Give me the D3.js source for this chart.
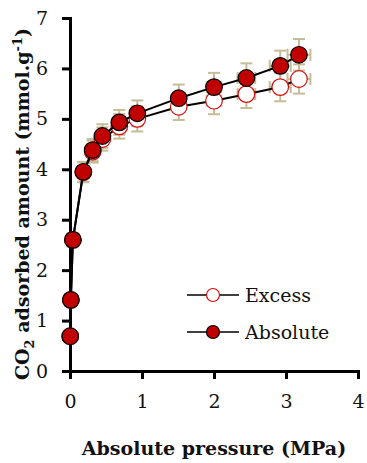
<!DOCTYPE html>
<html>
<head>
<meta charset="utf-8">
<script src="https://cdn.jsdelivr.net/npm/d3@7"></script>
<style>
  body { margin: 0; background: #fff; }
  .axis path, .axis line { stroke: #000; stroke-width: 3; }
  .axis text { font-family: "DejaVu Serif", serif; font-size: 19px; fill: #111; }
  .title { font-family: "DejaVu Serif", serif; font-size: 19px; font-weight: bold; fill: #111; }
  .legend text { font-family: "DejaVu Serif", serif; font-size: 19px; fill: #111; }
</style>
</head>
<body>
<div id="chart"></div>
<script>
// values
var pressure = [0.003, 0.012, 0.04, 0.185, 0.315, 0.45, 0.685, 0.935, 1.51, 2.0, 2.45, 2.92, 3.18];
var absolute = [0.69, 1.41, 2.60, 3.95, 4.38, 4.66, 4.93, 5.11, 5.41, 5.63, 5.81, 6.05, 6.27];
var excess   = [0.69, 1.41, 2.60, 3.94, 4.35, 4.60, 4.85, 5.00, 5.24, 5.36, 5.49, 5.63, 5.79];
var relError = 0.05;
var xTicks = [0, 1, 2, 3, 4];
var yTicks = [0, 1, 2, 3, 4, 5, 6, 7];
var seriesNames = ["Excess", "Absolute"];

var width = 367, height = 463;

var x = d3.scaleLinear().domain([0, 4]).range([70, 358]);
var y = d3.scaleLinear().domain([0, 7]).range([371, 18]);

var svg = d3.select("#chart").append("svg")
  .attr("width", width)
  .attr("height", height);

svg.append("g")
  .attr("class", "axis axis--x")
  .attr("transform", "translate(0," + y(0) + ")")
  .call(d3.axisBottom(x).tickValues(xTicks).tickFormat(d3.format("d"))
    .tickSize(8).tickSizeOuter(0).tickPadding(16));

svg.append("g")
  .attr("class", "axis axis--y")
  .attr("transform", "translate(" + x(0) + ",0)")
  .call(d3.axisLeft(y).tickValues(yTicks).tickFormat(d3.format("d"))
    .tickSize(8).tickSizeOuter(0).tickPadding(14));

svg.selectAll(".axis path").attr("stroke-linecap", "square");

var series = [
  { name: seriesNames[0], values: excess, fill: "#fff", stroke: "#d01010" },
  { name: seriesNames[1], values: absolute, fill: "#c00000", stroke: "#000" }
].map(function (s) {
  s.points = pressure.map(function (p, i) { return { x: p, y: s.values[i] }; });
  return s;
});

var line = d3.line()
  .x(function (d) { return x(d.x); })
  .y(function (d) { return y(d.y); });

var errColor = "#c4bd97", cap = 6;

// error bars behind everything
series.forEach(function (s) {
  var g = svg.append("g").attr("class", "errors")
    .attr("stroke", errColor).attr("stroke-width", 2);
  s.points.forEach(function (d) {
    var px = x(d.x), py = y(d.y);
    var y0 = y(d.y * (1 - relError)), y1 = y(d.y * (1 + relError));
    var x0 = x(d.x * (1 - relError)), x1 = x(d.x * (1 + relError));
    g.append("line").attr("x1", px).attr("x2", px).attr("y1", y0).attr("y2", y1);
    g.append("line").attr("x1", px - cap).attr("x2", px + cap).attr("y1", y0).attr("y2", y0);
    g.append("line").attr("x1", px - cap).attr("x2", px + cap).attr("y1", y1).attr("y2", y1);
    g.append("line").attr("x1", x0).attr("x2", x1).attr("y1", py).attr("y2", py);
    g.append("line").attr("x1", x0).attr("x2", x0).attr("y1", py - cap).attr("y2", py + cap);
    g.append("line").attr("x1", x1).attr("x2", x1).attr("y1", py - cap).attr("y2", py + cap);
  });
});

series.forEach(function (s) {
  svg.append("path")
    .attr("d", line(s.points))
    .attr("fill", "none")
    .attr("stroke", "#000")
    .attr("stroke-width", 2);

  svg.append("g").selectAll("circle")
    .data(s.points)
    .enter().append("circle")
    .attr("cx", function (d) { return x(d.x); })
    .attr("cy", function (d) { return y(d.y); })
    .attr("r", 8.3)
    .attr("fill", s.fill)
    .attr("stroke", s.stroke)
    .attr("stroke-width", 1.2);
});

// legend
var legend = svg.append("g").attr("class", "legend")
  .selectAll("g")
  .data(series)
  .enter().append("g")
  .attr("transform", function (d, i) { return "translate(187," + (295 + i * 37) + ")"; });

legend.append("line")
  .attr("x1", 0).attr("x2", 52)
  .attr("stroke", "#000").attr("stroke-width", 1.6);

legend.append("circle")
  .attr("cx", 26).attr("r", 6.5)
  .attr("fill", function (d) { return d.fill; })
  .attr("stroke", function (d) { return d.stroke; })
  .attr("stroke-width", 1.2);

legend.append("text")
  .attr("x", 58).attr("dy", "0.35em")
  .text(function (d) { return d.name; });

// axis titles
svg.append("text")
  .attr("class", "title")
  .attr("x", 214).attr("y", 455)
  .attr("text-anchor", "middle")
  .text("Absolute pressure (MPa)");

var yt = svg.append("text")
  .attr("class", "title")
  .attr("font-size", "19.8px")
  .attr("transform", "translate(29,204) rotate(-90)")
  .attr("text-anchor", "middle");
yt.append("tspan").text("CO");
yt.append("tspan").attr("font-size", "13px").attr("dy", "5").text("2");
yt.append("tspan").attr("dy", "-5").text(" adsorbed amount (mmol.g");
yt.append("tspan").attr("font-size", "13px").attr("dy", "-7").text("-1");
yt.append("tspan").attr("dy", "7").text(")");
</script>
</body>
</html>
